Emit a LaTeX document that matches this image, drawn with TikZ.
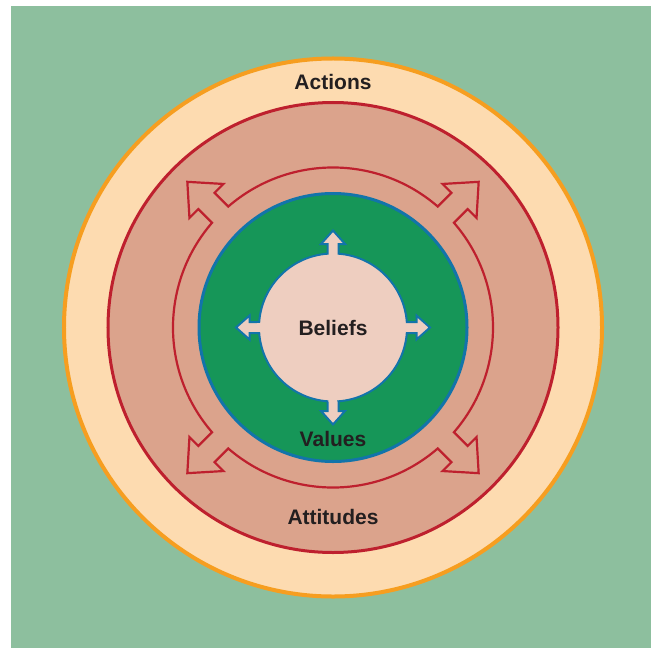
\documentclass[tikz,border=0pt]{standalone}
\usepackage{fontspec}
\setmainfont{Liberation Sans}
\definecolor{bggreen}{RGB}{141,191,158}
\definecolor{actfill}{RGB}{253,219,176}
\definecolor{actline}{RGB}{246,158,32}
\definecolor{attfill}{RGB}{219,163,140}
\definecolor{attline}{RGB}{190,32,46}
\definecolor{valfill}{RGB}{22,150,88}
\definecolor{valline}{RGB}{18,116,170}
\definecolor{belfill}{RGB}{238,206,192}
\definecolor{txtdark}{RGB}{35,31,32}
\tikzset{
  ringline/.style={draw=attline,line width=1.1pt,line join=miter},
  beliefline/.style={fill=belfill,draw=valline,line width=1pt,line join=miter},
  labelfont/.style={text=txtdark,font=\fontsize{10.5}{12}\selectfont\bfseries},
}

\begin{document}
\begin{tikzpicture}[x=0.5pt,y=0.5pt]
  \useasboundingbox (-333,327.5) rectangle (318,-320.5);
  \fill[bggreen] (-322,321.5) rectangle (318,-320.5);
  % nested circles
  \draw[fill=actfill,draw=actline,line width=2pt] (0,0) circle[radius=269];
  \draw[fill=attfill,draw=attline,line width=1.5pt] (0,0) circle[radius=225];
  \draw[fill=valfill,draw=valline,line width=1.5pt] (0,0) circle[radius=134];
  % thin ring with four diagonal arrows
  \draw[ringline] (-40.88:160)
    foreach \a in {45,135,225,315}{
      arc[start angle=\a-85.88,end angle=\a-4.12,radius=160]
      -- ([rotate=\a]179,-11.5) -- ([rotate=\a]179,-24) -- ([rotate=\a]206,0)
      -- ([rotate=\a]179,24) -- ([rotate=\a]179,11.5) -- ([rotate=\a]159.6,11.5)}
    -- cycle;
  % core circle with four arrows
  \draw[beliefline] (-85.74:74)
    foreach \a in {0,90,180,270}{
      arc[start angle=\a-85.74,end angle=\a-4.26,radius=74]
      -- ([rotate=\a]83.5,-5.5) -- ([rotate=\a]83.5,-12) -- ([rotate=\a]97,0)
      -- ([rotate=\a]83.5,12) -- ([rotate=\a]83.5,5.5) -- ([rotate=\a]73.8,5.5)}
    -- cycle;
  % labels
  \node[labelfont] (actions) at (0,245.5) {Actions};
  \node[labelfont] (attitudes) at (0,-189.5) {Attitudes};
  \node[labelfont] (values) at (0,-111.5) {Values};
  \node[labelfont] (beliefs) at (0,0) {Beliefs};
\end{tikzpicture}
\end{document}
